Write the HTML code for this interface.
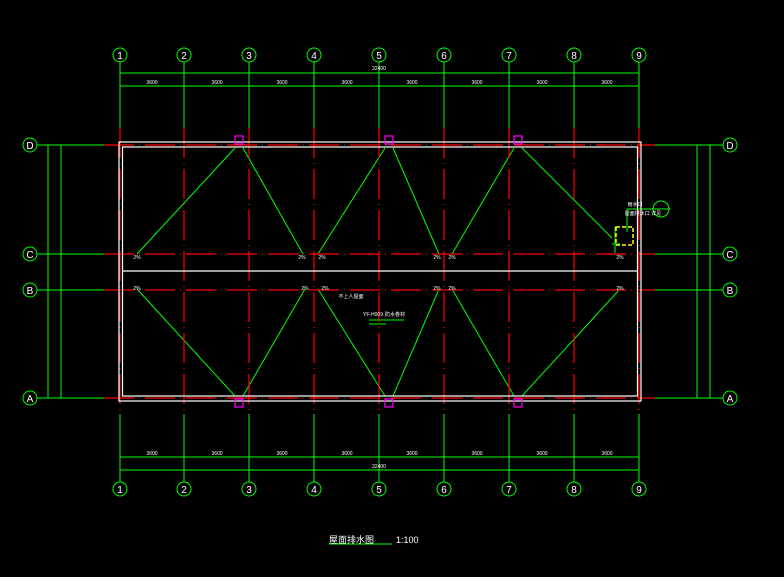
<!DOCTYPE html>
<html><head><meta charset="utf-8"><style>
html,body{margin:0;padding:0;background:#000;}
svg{display:block;font-family:"Liberation Sans","Noto Sans CJK SC",sans-serif;}
</style></head><body>
<svg width="784" height="577" viewBox="0 0 784 577" xmlns="http://www.w3.org/2000/svg">
<rect width="784" height="577" fill="#000"/>
<g stroke="#00ff00" stroke-width="1" fill="none">
<line x1="120" y1="73" x2="639" y2="73"/>
<line x1="120" y1="86" x2="639" y2="86"/>
<line x1="120" y1="457" x2="639" y2="457"/>
<line x1="120" y1="470" x2="639" y2="470"/>
<line x1="120" y1="62" x2="120" y2="128"/><line x1="184" y1="62" x2="184" y2="128"/><line x1="249" y1="62" x2="249" y2="128"/><line x1="314" y1="62" x2="314" y2="128"/><line x1="379" y1="62" x2="379" y2="128"/><line x1="444" y1="62" x2="444" y2="128"/><line x1="509" y1="62" x2="509" y2="128"/><line x1="574" y1="62" x2="574" y2="128"/><line x1="639" y1="62" x2="639" y2="128"/>
<line x1="120" y1="414" x2="120" y2="482"/><line x1="184" y1="414" x2="184" y2="482"/><line x1="249" y1="414" x2="249" y2="482"/><line x1="314" y1="414" x2="314" y2="482"/><line x1="379" y1="414" x2="379" y2="482"/><line x1="444" y1="414" x2="444" y2="482"/><line x1="509" y1="414" x2="509" y2="482"/><line x1="574" y1="414" x2="574" y2="482"/><line x1="639" y1="414" x2="639" y2="482"/>
<line x1="48" y1="145" x2="48" y2="398"/><line x1="61" y1="145" x2="61" y2="398"/>
<line x1="697" y1="145" x2="697" y2="398"/><line x1="710" y1="145" x2="710" y2="398"/>
<line x1="37" y1="145" x2="104" y2="145"/><line x1="37" y1="254" x2="104" y2="254"/><line x1="37" y1="290" x2="104" y2="290"/><line x1="37" y1="398" x2="104" y2="398"/>
<line x1="655" y1="145" x2="723" y2="145"/><line x1="655" y1="254" x2="723" y2="254"/><line x1="655" y1="290" x2="723" y2="290"/><line x1="655" y1="398" x2="723" y2="398"/>
<circle cx="120" cy="55" r="7"/><circle cx="184" cy="55" r="7"/><circle cx="249" cy="55" r="7"/><circle cx="314" cy="55" r="7"/><circle cx="379" cy="55" r="7"/><circle cx="444" cy="55" r="7"/><circle cx="509" cy="55" r="7"/><circle cx="574" cy="55" r="7"/><circle cx="639" cy="55" r="7"/>
<circle cx="120" cy="489" r="7"/><circle cx="184" cy="489" r="7"/><circle cx="249" cy="489" r="7"/><circle cx="314" cy="489" r="7"/><circle cx="379" cy="489" r="7"/><circle cx="444" cy="489" r="7"/><circle cx="509" cy="489" r="7"/><circle cx="574" cy="489" r="7"/><circle cx="639" cy="489" r="7"/>
<circle cx="30" cy="145" r="7"/><circle cx="30" cy="254" r="7"/><circle cx="30" cy="290" r="7"/><circle cx="30" cy="398" r="7"/>
<circle cx="730" cy="145" r="7"/><circle cx="730" cy="254" r="7"/><circle cx="730" cy="290" r="7"/><circle cx="730" cy="398" r="7"/>
<line x1="235" y1="148" x2="137" y2="254"/><line x1="243" y1="148" x2="303" y2="254"/>
<line x1="385" y1="148" x2="318" y2="254"/><line x1="393" y1="148" x2="439" y2="254"/>
<line x1="514" y1="148" x2="452" y2="254"/><line x1="522" y1="148" x2="612" y2="238"/>
<line x1="235" y1="396" x2="137" y2="289"/><line x1="243" y1="396" x2="305" y2="289"/>
<line x1="385" y1="396" x2="318" y2="289"/><line x1="393" y1="396" x2="439" y2="289"/>
<line x1="514" y1="396" x2="452" y2="289"/><line x1="522" y1="396" x2="620" y2="289"/>
<line x1="627" y1="209" x2="670" y2="209"/><line x1="627" y1="209" x2="627" y2="232"/>
<circle cx="661" cy="209" r="8"/>
<line x1="615" y1="227" x2="615" y2="253"/><line x1="612" y1="244" x2="620" y2="244"/>
<line x1="369" y1="320" x2="404" y2="320"/><line x1="369" y1="324" x2="386" y2="324"/>
<line x1="329" y1="544" x2="392" y2="544"/>
</g>
<g stroke="#ff0000" stroke-width="1.2" fill="none" stroke-dasharray="30,5,1,5">
<line x1="104" y1="145" x2="655" y2="145"/><line x1="104" y1="254" x2="655" y2="254"/><line x1="104" y1="290" x2="655" y2="290"/><line x1="104" y1="398" x2="655" y2="398"/>
<line x1="184" y1="128" x2="184" y2="414"/><line x1="249" y1="128" x2="249" y2="414"/><line x1="314" y1="128" x2="314" y2="414"/><line x1="379" y1="128" x2="379" y2="414"/><line x1="444" y1="128" x2="444" y2="414"/><line x1="509" y1="128" x2="509" y2="414"/><line x1="574" y1="128" x2="574" y2="414"/>
<line x1="120" y1="128" x2="120" y2="414"/><line x1="639" y1="128" x2="639" y2="414"/>
</g>
<g stroke="#fff" stroke-width="1.2" fill="none">
<rect x="119" y="142" width="522" height="259"/>
<rect x="122.5" y="147" width="515" height="249"/>
<line x1="122" y1="271" x2="637" y2="271"/>
</g>
<rect x="616" y="227" width="17" height="18" fill="none" stroke="#ffff00" stroke-width="1.5" stroke-dasharray="4,2"/>
<g stroke="#ff00ff" stroke-width="1.2" fill="none">
<rect x="235" y="136" width="8" height="8"/><rect x="385" y="136" width="8" height="8"/><rect x="514" y="136" width="8" height="8"/>
<rect x="235" y="399" width="8" height="8"/><rect x="385" y="399" width="8" height="8"/><rect x="514" y="399" width="8" height="8"/>
</g>
<g fill="#fff" font-size="10" text-anchor="middle">
<text x="120" y="59">1</text><text x="184" y="59">2</text><text x="249" y="59">3</text><text x="314" y="59">4</text><text x="379" y="59">5</text><text x="444" y="59">6</text><text x="509" y="59">7</text><text x="574" y="59">8</text><text x="639" y="59">9</text>
<text x="120" y="493">1</text><text x="184" y="493">2</text><text x="249" y="493">3</text><text x="314" y="493">4</text><text x="379" y="493">5</text><text x="444" y="493">6</text><text x="509" y="493">7</text><text x="574" y="493">8</text><text x="639" y="493">9</text>
<text x="30" y="149">D</text><text x="30" y="258">C</text><text x="30" y="294">B</text><text x="30" y="402">A</text>
<text x="730" y="149">D</text><text x="730" y="258">C</text><text x="730" y="294">B</text><text x="730" y="402">A</text>
</g>
<g fill="#fff" font-size="5" text-anchor="middle">
<text x="379" y="70">32400</text>
<text x="152" y="84">3600</text><text x="217" y="84">3600</text><text x="282" y="84">3600</text><text x="347" y="84">3600</text><text x="412" y="84">3600</text><text x="477" y="84">3600</text><text x="542" y="84">3600</text><text x="607" y="84">3600</text>
<text x="152" y="455">3600</text><text x="217" y="455">3600</text><text x="282" y="455">3600</text><text x="347" y="455">3600</text><text x="412" y="455">3600</text><text x="477" y="455">3600</text><text x="542" y="455">3600</text><text x="607" y="455">3600</text>
<text x="379" y="468">32400</text>
<text x="137" y="259">2%</text><text x="302" y="259">2%</text><text x="322" y="259">2%</text><text x="437" y="259">2%</text><text x="452" y="259">2%</text><text x="620" y="259">2%</text>
<text x="137" y="290">2%</text><text x="305" y="290">2%</text><text x="325" y="290">2%</text><text x="437" y="290">2%</text><text x="452" y="290">2%</text><text x="620" y="290">2%</text>
<text x="351" y="298">不上人屋面</text>
<text x="373" y="316">YF-H009</text><text x="395" y="316">防水卷材</text>
<text x="635" y="206">雨水口</text><text x="643" y="215">屋面排水口 详见</text>
</g>
<g fill="#fff" font-size="9">
<text x="329" y="543">屋面排水图</text>
<text x="396" y="543">1:100</text>
</g>
</svg>
</body></html>
